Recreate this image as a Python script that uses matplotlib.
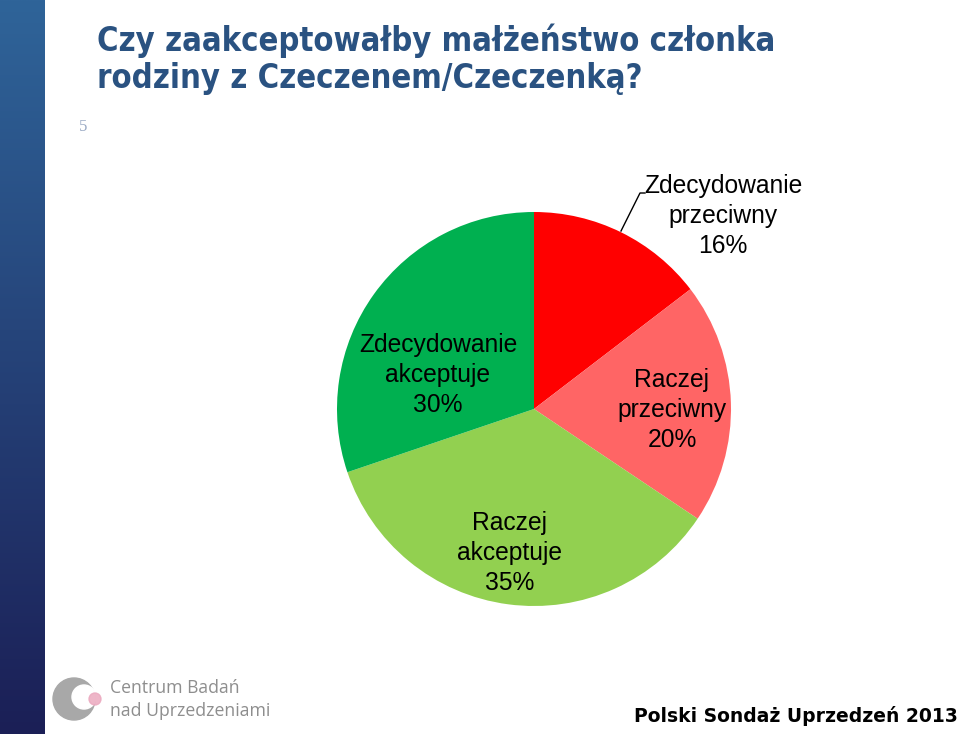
import numpy as np
import matplotlib.pyplot as plt
from matplotlib.colors import LinearSegmentedColormap
from matplotlib.patches import Circle

# chart data
labels = ["Zdecydowanie\nprzeciwny", "Raczej\nprzeciwny", "Raczej\nakceptuje", "Zdecydowanie\nakceptuje"]
shares = [14.6, 19.8, 35.4, 30.2]          # wedge sizes as drawn
pct_labels = ["16%", "20%", "35%", "30%"]   # printed percentages
colors = ["#FF0000", "#FF6565", "#92D050", "#00B050"]

title_lines = ["Czy zaakceptowałby małżeństwo członka", "rodziny z Czeczenem/Czeczenką?"]
slide_no = "5"
footer = "Polski Sondaż Uprzedzeń 2013"
logo_lines = ["Centrum Badań", "nad Uprzedzeniami"]

W, H = 960, 734
fig = plt.figure(figsize=(W / 100, H / 100), dpi=100)
fig.patch.set_facecolor("white")


def fx(px):
    return px / W


def fy(py):
    return 1 - py / H


# left gradient bar
bar_ax = fig.add_axes([0, 0, fx(45), 1])
cmap = LinearSegmentedColormap.from_list("bar", ["#2F6499", "#1B1F56"])
bar_ax.imshow(np.linspace(0, 1, 256).reshape(-1, 1), aspect="auto", cmap=cmap)
bar_ax.axis("off")

# title (condensed bold, like the slide's font)
for line, base in zip(title_lines, [51, 88]):
    fig.text(fx(97), fy(base), line, fontsize=23.5, fontweight="bold",
             color="#2A5281", family="DejaVu Sans", fontstretch="condensed",
             va="baseline")
fig.text(fx(83), fy(127), slide_no, fontsize=12, color="#9AAAC4",
         family="Liberation Serif", ha="center", va="center")

# pie
cx, cy, r = 534, 409, 197
ax = fig.add_axes([fx(cx - r), fy(cy + r), 2 * r / W, 2 * r / H])
ax.pie(shares, colors=colors, startangle=90, counterclock=False, radius=1,
       wedgeprops=dict(linewidth=0))
ax.set_xlim(-1, 1)
ax.set_ylim(-1, 1)
ax.set_aspect("equal")
ax.axis("off")


def d(px, py):
    return (px - cx) / r, (cy - py) / r


label_pos = [(723, 216), (672, 410), (510, 553), (438, 375)]
for lab, pct, (px, py) in zip(labels, pct_labels, label_pos):
    x, y = d(px, py)
    ax.text(x, y, lab + "\n" + pct, ha="center", va="center", fontsize=17.7,
            family="Liberation Sans", linespacing=1.3, clip_on=False)

# leader line for the first label
p0, p1, p2 = d(621, 231), d(640, 193), d(645, 193)
ax.plot([p0[0], p1[0], p2[0]], [p0[1], p1[1], p2[1]], color="black", lw=1, clip_on=False)

# logo
logo_ax = fig.add_axes([0, 0, 1, 1], zorder=-1)
logo_ax.set_xlim(0, W)
logo_ax.set_ylim(H, 0)
logo_ax.set_aspect("equal")
logo_ax.axis("off")
logo_ax.add_patch(Circle((74, 699), 21, color="#A8A8A8"))
logo_ax.add_patch(Circle((84, 697), 12, color="white"))
logo_ax.add_patch(Circle((95, 699), 6, color="#EBA9BF", alpha=0.85))
for line, yy in zip(logo_lines, [688, 711]):
    fig.text(fx(110), fy(yy), line, fontsize=12.7, color="#8E8E8E",
             family="Open Sans", va="center")

# footer
fig.text(fx(958), fy(716), footer, fontsize=13.5, fontweight="bold",
         color="black", family="DejaVu Sans", ha="right", va="center")

fig.savefig("out.png", dpi=100)
